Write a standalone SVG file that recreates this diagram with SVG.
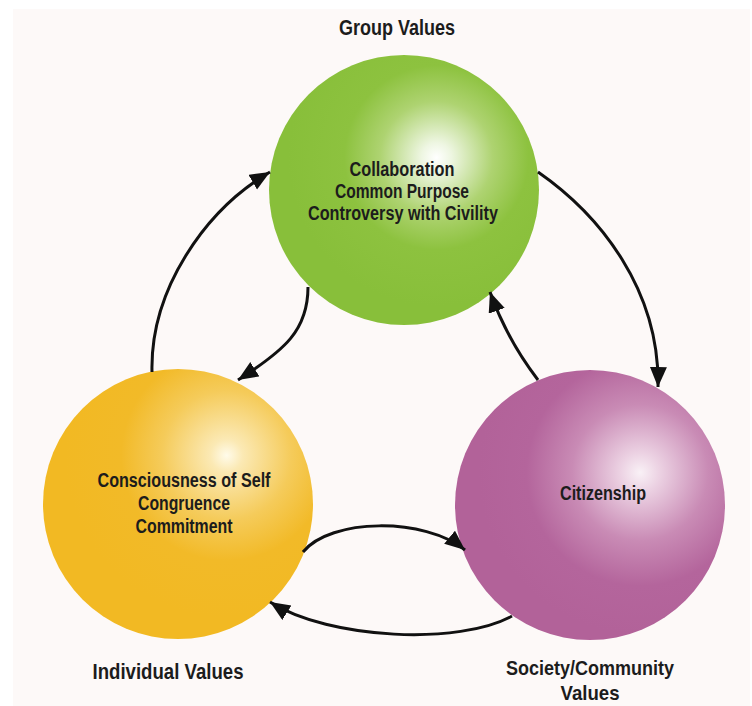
<svg xmlns="http://www.w3.org/2000/svg" width="752" height="706" viewBox="0 0 752 706">
<style>
.t{font-family:"Liberation Sans Narrow","Liberation Sans",Arial,sans-serif;font-weight:bold;fill:#1c1c1c;text-anchor:middle}
.in{font-size:20px}
.lb{font-size:22px}
.sm{font-size:21px}
.c{fill:none;stroke:#111;stroke-width:3;marker-end:url(#ah)}
</style>
<defs>
<marker id="ah" markerUnits="userSpaceOnUse" markerWidth="22" markerHeight="18" refX="20" refY="8.5" orient="auto">
<path d="M0,0 L20,8.5 L0,17 z" fill="#111"/>
</marker>
<radialGradient id="gG" cx="0.62" cy="0.38" fx="0.62" fy="0.38" r="0.55">
<stop offset="0" stop-color="#ffffff"/>
<stop offset="0.1" stop-color="#eef6e2"/>
<stop offset="0.38" stop-color="#aed371"/>
<stop offset="0.62" stop-color="#8dc23f"/>
<stop offset="1" stop-color="#88bf3a"/>
</radialGradient>
<radialGradient id="gY" cx="0.68" cy="0.32" fx="0.68" fy="0.32" r="0.6">
<stop offset="0" stop-color="#fffbea"/>
<stop offset="0.1" stop-color="#fbe9b4"/>
<stop offset="0.4" stop-color="#f5cb5a"/>
<stop offset="0.65" stop-color="#f2ba28"/>
<stop offset="1" stop-color="#f2b923"/>
</radialGradient>
<radialGradient id="gP" cx="0.685" cy="0.38" fx="0.685" fy="0.38" r="0.6">
<stop offset="0" stop-color="#f9f1f6"/>
<stop offset="0.12" stop-color="#ecd2e3"/>
<stop offset="0.42" stop-color="#c98bb5"/>
<stop offset="0.7" stop-color="#b4659c"/>
<stop offset="1" stop-color="#b26299"/>
</radialGradient>
</defs>
<rect x="0" y="0" width="752" height="706" fill="#ffffff"/>
<rect x="13" y="9" width="737" height="697" fill="#fdf9f8"/>

<g id="group-values">
<circle cx="404" cy="190" r="135" fill="url(#gG)"/>
<text class="t in" x="402" y="176" textLength="105" lengthAdjust="spacingAndGlyphs">Collaboration</text>
<text class="t in" x="402" y="198" textLength="134" lengthAdjust="spacingAndGlyphs">Common Purpose</text>
<text class="t in" x="403" y="220" textLength="190" lengthAdjust="spacingAndGlyphs">Controversy with Civility</text>
<text class="t lb" x="397" y="35" textLength="116" lengthAdjust="spacingAndGlyphs">Group Values</text>
</g>

<g id="individual-values">
<circle cx="178" cy="504" r="135" fill="url(#gY)"/>
<text class="t in" x="184" y="487" textLength="173" lengthAdjust="spacingAndGlyphs">Consciousness of Self</text>
<text class="t in" x="184" y="510" textLength="92" lengthAdjust="spacingAndGlyphs">Congruence</text>
<text class="t in" x="184" y="533" textLength="97" lengthAdjust="spacingAndGlyphs">Commitment</text>
<text class="t lb" x="168" y="679" textLength="151" lengthAdjust="spacingAndGlyphs">Individual Values</text>
</g>

<g id="society-values">
<circle cx="590" cy="505" r="135" fill="url(#gP)"/>
<text class="t in" x="603" y="500" textLength="86" lengthAdjust="spacingAndGlyphs">Citizenship</text>
<text class="t sm" x="590" y="675" textLength="168" lengthAdjust="spacingAndGlyphs">Society/Community</text>
<text class="t sm" x="590" y="700" textLength="59" lengthAdjust="spacingAndGlyphs">Values</text>
</g>

<g id="connectors">
<path class="c" d="M152,372 C150,290 205,210 270,172"/>
<path class="c" d="M308,287 C308,330 285,350 238,380"/>
<path class="c" d="M538,172 C600,215 660,290 658,387"/>
<path class="c" d="M538,380 C515,350 500,320 490,292"/>
<path class="c" d="M303,552 C330,518 425,517 465,550"/>
<path class="c" d="M512,616 C460,645 330,640 270,602"/>
</g>
</svg>
